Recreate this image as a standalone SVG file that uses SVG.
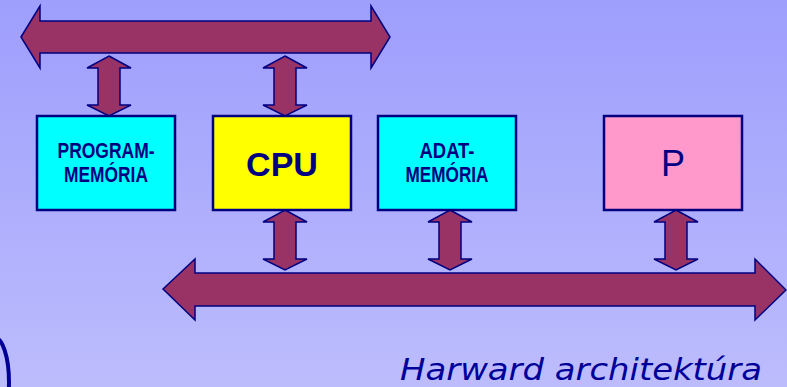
<svg xmlns="http://www.w3.org/2000/svg" width="787" height="387" viewBox="0 0 787 387">
<defs>
<linearGradient id="bg" x1="0" y1="0" x2="0" y2="1">
<stop offset="0" stop-color="#9e9efd"/>
<stop offset="1" stop-color="#bcbcfd"/>
</linearGradient>
<style>
.arr{fill:#993366;stroke:#000080;stroke-width:1.5;stroke-linejoin:miter}
.box{stroke:#000080;stroke-width:2.5}
.lbl{font-family:"Liberation Sans",Arial,sans-serif;font-weight:bold;fill:#000080;text-anchor:middle}
</style>
</defs>
<rect width="787" height="387" fill="url(#bg)"/>
<g id="connectors">
<polygon class="arr" points="21,37 40,6 40,21 371,21 371,6 390,37 371,68 371,53 40,53 40,68"/>
<polygon class="arr" points="163,289 195,259 195,273 755,273 755,259 786,290 755,320 755,306 195,306 195,320"/>
<polygon class="arr" points="109,56 131,68 120,68 120,105 131,105 109,116 87,105 98,105 98,68 87,68"/>
<polygon class="arr" points="285,56 307,68 296,68 296,105 307,105 285,116 263,105 274,105 274,68 263,68"/>
<polygon class="arr" points="285,210 307,222 296,222 296,259 307,259 285,270 263,259 274,259 274,222 263,222"/>
<polygon class="arr" points="450,210 472,222 461,222 461,259 472,259 450,270 428,259 439,259 439,222 428,222"/>
<polygon class="arr" points="676,210 698,222 687,222 687,259 698,259 676,270 654,259 665,259 665,222 654,222"/>
</g>
<g id="programmemoria">
<rect class="box" x="37" y="116" width="138" height="94" fill="#00ffff"/>
<text class="lbl" font-size="21.5"><tspan x="106" y="158" textLength="97" lengthAdjust="spacingAndGlyphs">PROGRAM-</tspan><tspan x="106" y="182" textLength="84" lengthAdjust="spacingAndGlyphs">MEMÓRIA</tspan></text>
</g>
<g id="cpu">
<rect class="box" x="213" y="116" width="138" height="94" fill="#ffff00"/>
<text class="lbl" x="282" y="176" font-size="34">CPU</text>
</g>
<g id="adatmemoria">
<rect class="box" x="378" y="116" width="138" height="94" fill="#00ffff"/>
<text class="lbl" font-size="21.5"><tspan x="447" y="158" textLength="55" lengthAdjust="spacingAndGlyphs">ADAT-</tspan><tspan x="447" y="182" textLength="83" lengthAdjust="spacingAndGlyphs">MEMÓRIA</tspan></text>
</g>
<g id="p">
<rect class="box" x="604" y="116" width="138" height="94" fill="#ff99cc"/>
<text x="673" y="176" font-family="Liberation Sans,Arial,sans-serif" font-size="36" fill="#000080" text-anchor="middle">P</text>
</g>
<path d="M -6 337 A 15 45 0 0 1 -6 427" fill="none" stroke="#000099" stroke-width="4"/>
<text x="400" y="380" font-family="DejaVu Sans,Verdana,sans-serif" font-style="italic" font-size="30" fill="#000099" textLength="362" lengthAdjust="spacingAndGlyphs">Harward architektúra</text>
</svg>
